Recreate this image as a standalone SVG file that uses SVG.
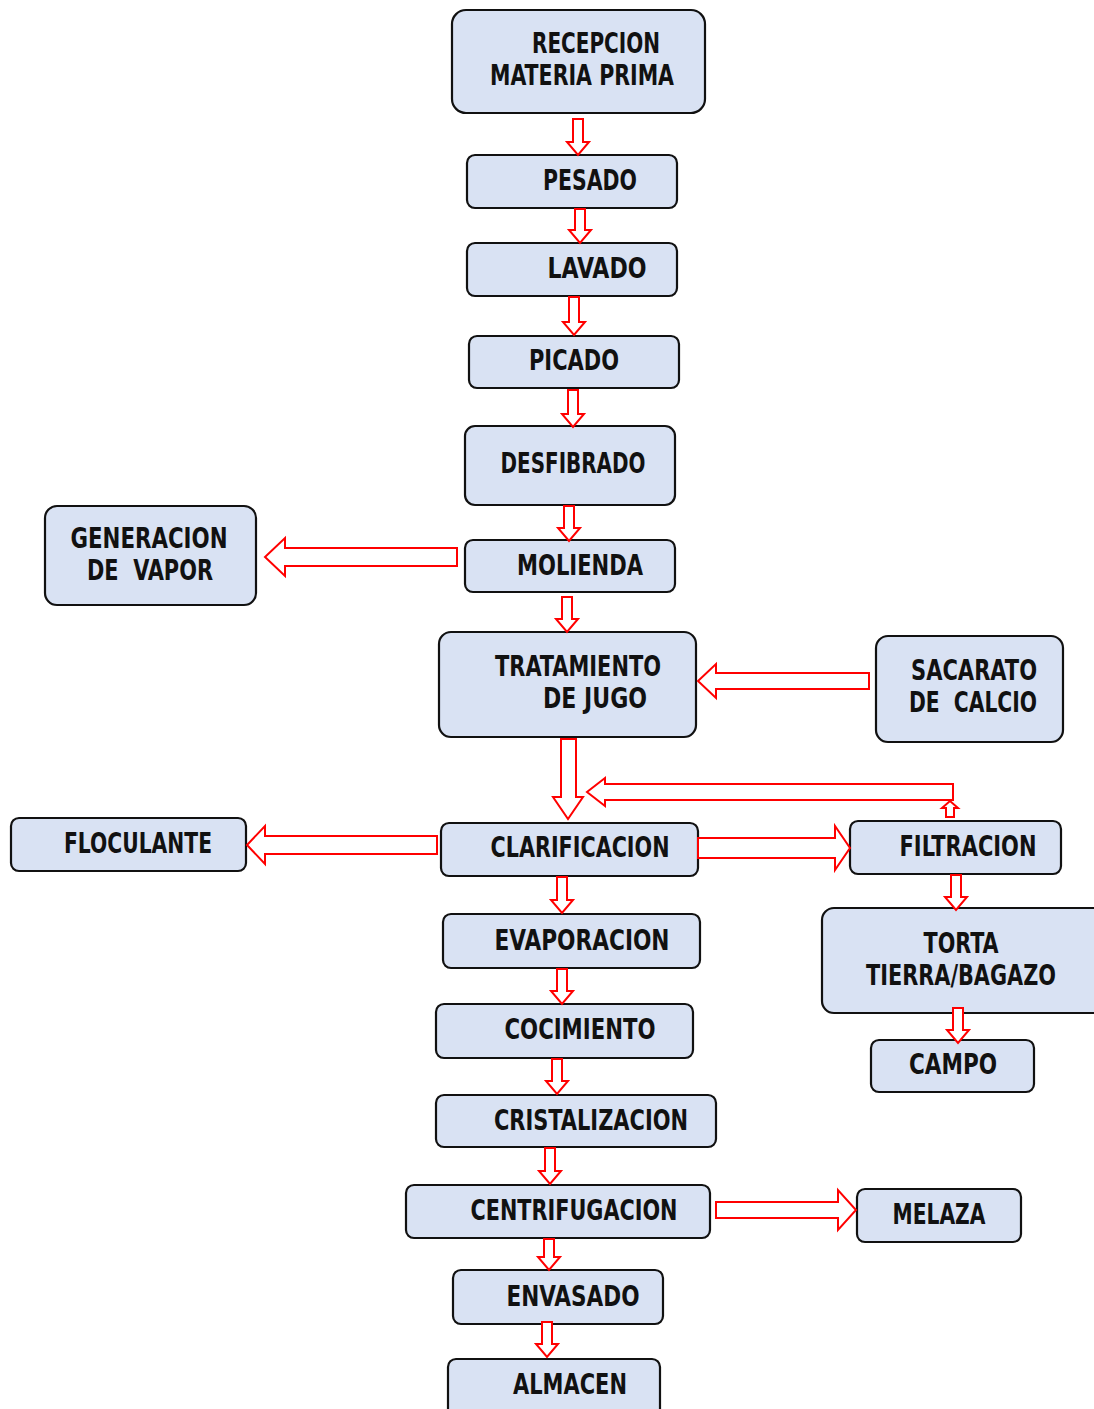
<svg xmlns="http://www.w3.org/2000/svg" width="1094" height="1409" viewBox="0 0 1094 1409">
<style>
.n rect{fill:#D9E2F3;stroke:#111;stroke-width:2.2}
.n text{font-family:"Liberation Sans Narrow","DejaVu Sans Condensed","Liberation Sans",sans-serif;font-weight:bold;font-size:28px;fill:#111;text-anchor:middle;white-space:pre}
.a path{fill:#fff;stroke:#f00;stroke-width:2;stroke-linejoin:miter}
</style>
<rect width="1094" height="1409" fill="#fff"/>
<g class="n">
<g id="recepcion"><rect x="452" y="10" width="253" height="103" rx="14"/><text x="596" y="53" textLength="128" lengthAdjust="spacingAndGlyphs">RECEPCION</text><text x="582" y="85" textLength="184" lengthAdjust="spacingAndGlyphs">MATERIA PRIMA</text></g>
<g id="pesado"><rect x="467" y="155" width="210" height="53" rx="8"/><text x="590" y="190" textLength="94" lengthAdjust="spacingAndGlyphs">PESADO</text></g>
<g id="lavado"><rect x="467" y="243" width="210" height="53" rx="8"/><text x="597" y="278" textLength="99" lengthAdjust="spacingAndGlyphs">LAVADO</text></g>
<g id="picado"><rect x="469" y="336" width="210" height="52" rx="8"/><text x="574" y="370" textLength="90" lengthAdjust="spacingAndGlyphs">PICADO</text></g>
<g id="desfibrado"><rect x="465" y="426" width="210" height="79" rx="10"/><text x="573" y="473" textLength="145" lengthAdjust="spacingAndGlyphs">DESFIBRADO</text></g>
<g id="molienda"><rect x="465" y="540" width="210" height="52" rx="8"/><text x="580" y="575" textLength="126" lengthAdjust="spacingAndGlyphs">MOLIENDA</text></g>
<g id="generacion"><rect x="45" y="506" width="211" height="99" rx="12"/><text x="149" y="548" textLength="157" lengthAdjust="spacingAndGlyphs">GENERACION</text><text x="150" y="580" textLength="126" lengthAdjust="spacingAndGlyphs">DE  VAPOR</text></g>
<g id="tratamiento"><rect x="439" y="632" width="257" height="105" rx="12"/><text x="578" y="676" textLength="166" lengthAdjust="spacingAndGlyphs">TRATAMIENTO</text><text x="595" y="708" textLength="104" lengthAdjust="spacingAndGlyphs">DE JUGO</text></g>
<g id="sacarato"><rect x="876" y="636" width="187" height="106" rx="12"/><text x="974" y="680" textLength="126" lengthAdjust="spacingAndGlyphs">SACARATO</text><text x="973" y="712" textLength="128" lengthAdjust="spacingAndGlyphs">DE  CALCIO</text></g>
<g id="floculante"><rect x="11" y="818" width="235" height="53" rx="8"/><text x="138" y="853" textLength="148" lengthAdjust="spacingAndGlyphs">FLOCULANTE</text></g>
<g id="clarificacion"><rect x="441" y="823" width="257" height="53" rx="8"/><text x="580" y="857" textLength="179" lengthAdjust="spacingAndGlyphs">CLARIFICACION</text></g>
<g id="filtracion"><rect x="850" y="821" width="211" height="53" rx="8"/><text x="968" y="856" textLength="137" lengthAdjust="spacingAndGlyphs">FILTRACION</text></g>
<g id="evaporacion"><rect x="443" y="914" width="257" height="54" rx="8"/><text x="582" y="950" textLength="175" lengthAdjust="spacingAndGlyphs">EVAPORACION</text></g>
<g id="torta"><rect x="822" y="908" width="290" height="105" rx="12"/><text x="961" y="953" textLength="75" lengthAdjust="spacingAndGlyphs">TORTA</text><text x="961" y="985" textLength="190" lengthAdjust="spacingAndGlyphs">TIERRA/BAGAZO</text></g>
<g id="campo"><rect x="871" y="1040" width="163" height="52" rx="8"/><text x="953" y="1074" textLength="88" lengthAdjust="spacingAndGlyphs">CAMPO</text></g>
<g id="cocimiento"><rect x="436" y="1004" width="257" height="54" rx="8"/><text x="580" y="1039" textLength="151" lengthAdjust="spacingAndGlyphs">COCIMIENTO</text></g>
<g id="cristalizacion"><rect x="436" y="1095" width="280" height="52" rx="8"/><text x="591" y="1130" textLength="194" lengthAdjust="spacingAndGlyphs">CRISTALIZACION</text></g>
<g id="centrifugacion"><rect x="406" y="1185" width="304" height="53" rx="8"/><text x="574" y="1220" textLength="207" lengthAdjust="spacingAndGlyphs">CENTRIFUGACION</text></g>
<g id="melaza"><rect x="857" y="1189" width="164" height="53" rx="8"/><text x="939" y="1224" textLength="93" lengthAdjust="spacingAndGlyphs">MELAZA</text></g>
<g id="envasado"><rect x="453" y="1270" width="210" height="54" rx="8"/><text x="573" y="1306" textLength="133" lengthAdjust="spacingAndGlyphs">ENVASADO</text></g>
<g id="almacen"><rect x="448" y="1359" width="212" height="62" rx="8"/><text x="570" y="1394" textLength="114" lengthAdjust="spacingAndGlyphs">ALMACEN</text></g>
</g>
<g id="connectors" class="a">
<path d="M573,119 H583 V142 H589 L578,155 L567,142 H573 Z"/>
<path d="M575,209 H585 V230 H591 L580,243 L569,230 H575 Z"/>
<path d="M569,297 H579 V322 H585 L574,335 L563,322 H569 Z"/>
<path d="M568,390 H578 V414 H584 L573,427 L562,414 H568 Z"/>
<path d="M564,506 H574 V528 H580 L569,541 L558,528 H564 Z"/>
<path d="M562,597 H572 V619 H578 L567,632 L556,619 H562 Z"/>
<path d="M557,877 H567 V900 H573 L562,913 L551,900 H557 Z"/>
<path d="M557,969 H567 V991 H573 L562,1004 L551,991 H557 Z"/>
<path d="M552,1059 H562 V1081 H568 L557,1094 L546,1081 H552 Z"/>
<path d="M545,1148 H555 V1171 H561 L550,1184 L539,1171 H545 Z"/>
<path d="M544,1239 H554 V1257 H560 L549,1270 L538,1257 H544 Z"/>
<path d="M542,1322 H552 V1344 H558 L547,1357 L536,1344 H542 Z"/>
<path d="M951,875 H961 V897 H967 L956,910 L945,897 H951 Z"/>
<path d="M953,1008 H963 V1030 H969 L958,1043 L947,1030 H953 Z"/>
<path d="M561,739 H576 V797 H583 L568,819 L553,797 H561 Z"/>
<path d="M457,548 V566 H285 V576 L265,557 L285,538 V548 Z"/>
<path d="M869,673 V689 H716 V698 L698,681 L716,664 V673 Z"/>
<path d="M953,784 V800 H605 V806 L587,792 L605,778 V784 Z"/>
<path d="M946,817 H954 V808 H958 L950,801 L942,808 H946 Z"/>
<path d="M437,836 V854 H265 V864 L247,845 L265,826 V836 Z"/>
<path d="M698,838 V858 H835 V870 L850,848 L835,826 V838 Z"/>
<path d="M716,1202 V1218 H838 V1230 L856,1210 L838,1190 V1202 Z"/>
</g>
</svg>
